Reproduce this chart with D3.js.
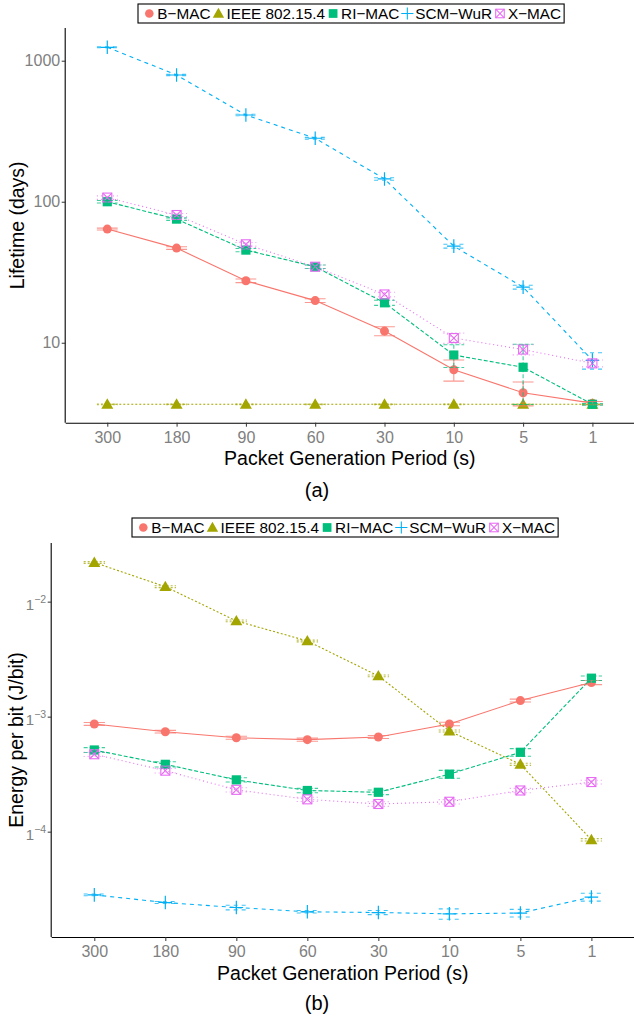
<!DOCTYPE html>
<html><head><meta charset="utf-8">
<script src="https://cdn.jsdelivr.net/npm/d3@7"></script>
<style>
body{margin:0;background:#fff}
text{font-family:"Liberation Sans",Arial,sans-serif}
</style></head>
<body><svg id="c" width="634" height="1018"></svg>
<script>
// ---------- data ----------
const categories = ["300","180","90","60","30","10","5","1"];
const seriesNames = ["B\u2212MAC","IEEE 802.15.4","RI\u2212MAC","SCM\u2212WuR","X\u2212MAC"];
const seriesColors = ["#F8766D","#A3A500","#00BF7D","#00B0F6","#E76BF3"];
const seriesShapes = ["circle","triangle","square","plus","squarex"];
const seriesDash = [null,"2,2","4,2","4,4","1,3"];

// (a) lifetime (days)
const lifeBMAC = [64, 46.9, 27.5, 19.9, 12.1, 6.44, 4.42, 3.73];
const lifeIEEE = [3.66, 3.66, 3.66, 3.66, 3.66, 3.66, 3.66, 3.66];
const lifeRIMAC = [100, 75.3, 45.4, 34.6, 19.2, 8.18, 6.7, 3.66];
const lifeSCM = [1245, 792, 412, 282, 145, 48.4, 24.8, 7.5];
const lifeXMAC = [107, 80.5, 49.9, 34.6, 22, 10.8, 8.95, 7.14];
const lifeErrBMAC = [1, 1, 0.8, 0.6, 0.9, 1.1, 0.85, 0.1];
const lifeErrIEEE = [0.02, 0.02, 0.02, 0.02, 0.02, 0.02, 0.02, 0.02];
const lifeErrRIMAC = [2, 1.5, 1.2, 1, 0.8, 1.5, 3.05, 0.05];
const lifeErrSCM = [10, 8, 5, 4, 3, 1.5, 0.8, 1];
const lifeErrXMAC = [3, 2, 1.5, 1, 0.8, 0.9, 0.75, 0.4];

// (b) energy per bit (J/bit)
const epbBMAC = [8.64e-4, 7.4e-4, 6.56e-4, 6.31e-4, 6.66e-4, 8.64e-4, 1.38e-3, 1.98e-3];
const epbIEEE = [0.0219, 0.0135, 0.0068, 0.00455, 0.00226, 7.5e-4, 3.85e-4, 8.5e-5];
const epbRIMAC = [5.13e-4, 3.85e-4, 2.82e-4, 2.28e-4, 2.2e-4, 3.16e-4, 4.9e-4, 2.16e-3];
const epbSCM = [2.82e-5, 2.42e-5, 2.19e-5, 2.01e-5, 1.98e-5, 1.93e-5, 1.96e-5, 2.7e-5];
const epbXMAC = [4.71e-4, 3.39e-4, 2.31e-4, 1.91e-4, 1.74e-4, 1.82e-4, 2.28e-4, 2.7e-4];
const epbErrBMAC = [2.5e-5, 2e-5, 2e-5, 2e-5, 2e-5, 3e-5, 4e-5, 8e-5];
const epbErrIEEE = [4e-4, 2.5e-4, 1.2e-4, 8e-5, 4e-5, 1.5e-5, 8e-6, 2e-6];
const epbErrRIMAC = [2.5e-5, 2e-5, 1.2e-5, 1e-5, 1e-5, 2.5e-5, 3.7e-5, 1e-4];
const epbErrSCM = [5e-7, 5e-7, 1e-6, 5e-7, 8e-7, 2e-6, 1.5e-6, 2.1e-6];
const epbErrXMAC = [2e-5, 1.5e-5, 1e-5, 8e-6, 8e-6, 8e-6, 1e-5, 1e-5];

const lifeTicks = [10, 100, 1000];
const epbTicks = [1e-4, 1e-3, 1e-2];
const epbTickExp = ["\u22124", "\u22123", "\u22122"];

// ---------- drawing ----------
const svg = d3.select("#c");
const FONT = '"Liberation Sans",Arial,sans-serif';

function shapePath(type, g, x, y, color) {
  if (type === "circle") {
    g.append("circle").attr("cx", x).attr("cy", y).attr("r", 4.5).attr("fill", color);
  } else if (type === "triangle") {
    const s = 6;
    g.append("path").attr("d", `M${x},${y - s}L${x + s},${y + s * 0.73}L${x - s},${y + s * 0.73}Z`).attr("fill", color);
  } else if (type === "square") {
    g.append("rect").attr("x", x - 4.6).attr("y", y - 4.6).attr("width", 9.2).attr("height", 9.2).attr("fill", color);
  } else if (type === "plus") {
    g.append("path").attr("d", `M${x - 6.8},${y}H${x + 6.8}M${x},${y - 6.8}V${y + 6.8}`).attr("stroke", color).attr("stroke-width", 1.2).attr("fill", "none");
  } else if (type === "squarex") {
    const s = 4.5;
    g.append("rect").attr("x", x - s).attr("y", y - s).attr("width", 2 * s).attr("height", 2 * s).attr("fill", "none").attr("stroke", color).attr("stroke-width", 1.1);
    g.append("path").attr("d", `M${x - s},${y - s}L${x + s},${y + s}M${x + s},${y - s}L${x - s},${y + s}`).attr("stroke", color).attr("stroke-width", 1.1);
  }
}

function drawPanel(cfg) {
  const { left, right, top, bottom, vals, errs, domain, ticks, tickLabel, yTitle, xTitleY, tagY, tag, legendY } = cfg;
  const x = d3.scalePoint().domain(categories).range([left, right]).padding(0.6);
  const y = d3.scaleLog().domain(domain).range([bottom, top]);
  const g = svg.append("g");
  const capW = x.step() * 0.3;

  vals.forEach((v, si) => {
    const line = d3.line().x((d, i) => x(categories[i])).y(d => y(d));
    g.append("path").datum(v).attr("d", line).attr("fill", "none")
      .attr("stroke", seriesColors[si]).attr("stroke-width", 1.1)
      .attr("stroke-dasharray", seriesDash[si]);
  });
  vals.forEach((v, si) => {
    const pg = g.append("g");
    v.forEach((d, i) => shapePath(seriesShapes[si], pg, x(categories[i]), y(d), seriesColors[si]));
  });
  vals.forEach((v, si) => {
    const eg = g.append("g").attr("stroke", seriesColors[si]).attr("stroke-width", 1.1)
      .attr("stroke-opacity", 0.75).attr("fill", "none").attr("stroke-dasharray", seriesDash[si]);
    v.forEach((d, i) => {
      const cx = x(categories[i]);
      const lo = Math.max(d - errs[si][i], domain[0]);
      const hi = d + errs[si][i];
      const y1 = y(hi), y2 = y(lo);
      eg.append("path").attr("d", `M${cx - capW / 2},${y1}H${cx + capW / 2}M${cx - capW / 2},${y2}H${cx + capW / 2}M${cx},${y1}V${y2}`);
    });
  });

  const ax = g.append("g").attr("transform", `translate(0,${bottom})`)
    .call(d3.axisBottom(x).tickSize(4).tickPadding(5));
  ax.select(".domain").attr("d", `M${left},0.5H${right}`).attr("stroke", "#000").attr("stroke-width", 1.1);
  ax.selectAll(".tick line").attr("stroke", "#333");
  ax.selectAll(".tick text").attr("font-size", 16).attr("fill", "#808080").attr("font-family", FONT);

  const ay = g.append("g").attr("transform", `translate(${left},0)`)
    .call(d3.axisLeft(y).tickValues(ticks).tickSize(4).tickPadding(1.5).tickFormat(tickLabel ? () => "" : d3.format("d")));
  ay.select(".domain").attr("d", `M-0.5,${top}V${bottom}`).attr("stroke", "#000").attr("stroke-width", 1.1);
  ay.selectAll(".tick line").attr("stroke", "#333");
  ay.selectAll(".tick text").attr("font-size", 16).attr("fill", "#808080").attr("font-family", FONT);
  if (tickLabel) {
    ay.selectAll(".tick").each(function (d, i) {
      const t = d3.select(this).select("text").attr("dy", "0.5em").attr("font-size", 15);
      t.append("tspan").text("1");
      t.append("tspan").attr("font-size", 10.5).attr("dy", "-0.65em").text(tickLabel[i]);
    });
  }

  svg.append("text").attr("transform", `translate(${cfg.yTitleX},${(top + bottom) / 2}) rotate(-90)`)
    .attr("text-anchor", "middle").attr("font-size", 19.5).attr("fill", "#000").text(yTitle);
  svg.append("text").attr("x", (left + right) / 2).attr("y", xTitleY).attr("text-anchor", "middle")
    .attr("font-size", 19.5).attr("fill", "#000").text("Packet Generation Period (s)");
  svg.append("text").attr("x", 317).attr("y", tagY).attr("text-anchor", "middle")
    .attr("font-family", '"Liberation Serif","Times New Roman",serif').attr("font-size", 20).text(tag);

  const lg = svg.append("g");
  const box = lg.append("rect").attr("fill", "#fff").attr("stroke", "#000").attr("stroke-width", 1.1);
  let cx = cfg.legendX + 11.3;
  const cy = legendY + 9.5;
  seriesNames.forEach((nm, si) => {
    const kg = lg.append("g");
    const sc = seriesShapes[si] === "plus" ? 0.9 : 0.95;
    const sg = kg.append("g").attr("transform", `translate(${cx},${cy}) scale(${sc})`);
    shapePath(seriesShapes[si], sg, 0, 0, seriesColors[si]);
    const t = kg.append("text").attr("x", cx + 8).attr("y", cy + 5.4).attr("font-size", 15.3).attr("fill", "#000").text(nm);
    const w = t.node().getComputedTextLength();
    cx = cx + 8 + w + 8;
  });
  box.attr("x", cfg.legendX).attr("y", legendY).attr("width", cx - 8 + 3 - cfg.legendX).attr("height", 19);
}

drawPanel({
  left: 65.7, right: 634, top: 28, bottom: 422.7,
  vals: [lifeBMAC, lifeIEEE, lifeRIMAC, lifeSCM, lifeXMAC],
  errs: [lifeErrBMAC, lifeErrIEEE, lifeErrRIMAC, lifeErrSCM, lifeErrXMAC],
  domain: [Math.pow(10, 0.433), Math.pow(10, 3.232)],
  ticks: lifeTicks, tickLabel: null,
  yTitle: "Lifetime (days)", yTitleX: 24, xTitleY: 465, tagY: 497, tag: "(a)",
  legendX: 138, legendY: 4
});

drawPanel({
  left: 51.7, right: 634, top: 543, bottom: 937,
  vals: [epbBMAC, epbIEEE, epbRIMAC, epbSCM, epbXMAC],
  errs: [epbErrBMAC, epbErrIEEE, epbErrRIMAC, epbErrSCM, epbErrXMAC],
  domain: [Math.pow(10, -4.916), Math.pow(10, -1.49)],
  ticks: epbTicks, tickLabel: epbTickExp,
  yTitle: "Energy per bit (J/bit)", yTitleX: 23, xTitleY: 980, tagY: 1010, tag: "(b)",
  legendX: 132, legendY: 518
});
</script></body></html>
